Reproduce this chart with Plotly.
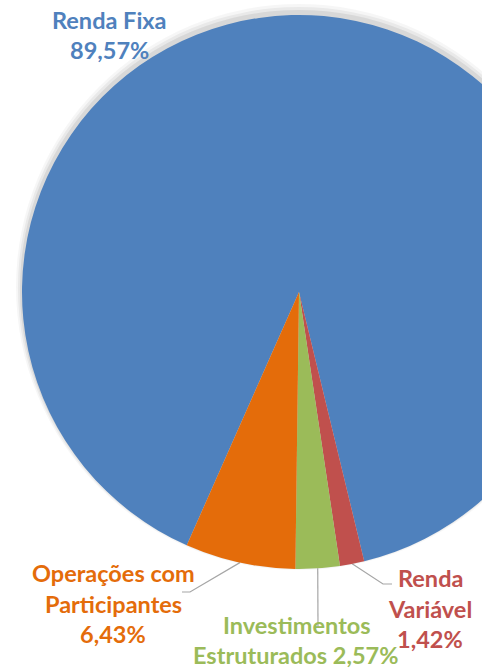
import numpy as np
import plotly.graph_objects as go

# dados da carteira (%)
categorias = ["Renda Fixa", "Renda Variável", "Investimentos Estruturados", "Operações com Participantes"]
valores = [89.57, 1.42, 2.57, 6.43]
cores = ["#4F81BD", "#C0504D", "#9BBB59", "#E46C0A"]
cores_texto = ["#4F81BD", "#C0504D", "#9BBB59", "#E46C0A"]
rotulos = [
    ["Renda Fixa", "89,57%"],
    ["Renda", "Variável", "1,42%"],
    ["Investimentos", "Estruturados 2,57%"],
    ["Operações com", "Participantes", "6,43%"],
]

W, H = 600, 672
cx, cy, r = 299, 292, 277
rotacao = 203.9

fig = go.Figure()

# sombra suave por tras da pizza (deslocada para cima)
for dr, dy, op in [(6, 5, 0.035), (4, 4, 0.05), (2, 3, 0.07)]:
    rr = r + dr
    fig.add_trace(go.Pie(
        values=[1], marker=dict(colors=["rgba(0,0,0,%s)" % op], line=dict(width=0)),
        textinfo="none", hoverinfo="skip", sort=False,
        domain=dict(x=[(cx - rr) / W, (cx + rr) / W],
                    y=[(H - (cy - dy) - rr) / H, (H - (cy - dy) + rr) / H]),
    ))

fig.add_trace(go.Pie(
    labels=categorias,
    values=valores,
    sort=False,
    direction="clockwise",
    rotation=rotacao,
    marker=dict(colors=cores, line=dict(width=0)),
    textinfo="none",
    hoverinfo="label+percent",
    domain=dict(x=[(cx - r) / W, (cx + r) / W], y=[(H - cy - r) / H, (H - cy + r) / H]),
))

# angulo medio de cada fatia (graus, horario a partir do topo)
fracs = np.array(valores) / np.sum(valores) * 360
inicio = rotacao + np.concatenate([[0], np.cumsum(fracs)[:-1]])
meio = np.radians(inicio + fracs / 2)
bx = cx + r * np.sin(meio)
by = cy - r * np.cos(meio)

# pontos de cotovelo / fim das linhas de chamada
cotovelos = {
    1: [(383, 584), (392, 584)],
    2: [(318, 628)],
    3: [(190, 592), (182, 592)],
}
for i, pts in cotovelos.items():
    xs = [bx[i]] + [p[0] for p in pts]
    ys = [by[i]] + [p[1] for p in pts]
    fig.add_trace(go.Scatter(x=xs, y=ys, mode="lines", line=dict(color="#A6A6A6", width=1.2),
                             hoverinfo="skip", showlegend=False))

# posicoes dos rotulos (centro de cada linha)
pos_rotulos = [
    [(109, 20), (109, 50)],
    [(430, 578), (430, 609), (430, 639)],
    [(297, 625), (296, 655)],
    [(113, 573), (113, 604), (113, 634)],
]
for i in range(len(categorias)):
    for txt, (x, y) in zip(rotulos[i], pos_rotulos[i]):
        fig.add_annotation(x=x, y=y, text="<b>%s</b>" % txt, showarrow=False,
                           font=dict(family="Lato", size=23.5, color=cores_texto[i]),
                           xanchor="center", yanchor="middle")

fig.update_layout(
    width=W, height=H,
    margin=dict(l=0, r=0, t=0, b=0),
    paper_bgcolor="white", plot_bgcolor="rgba(0,0,0,0)",
    showlegend=False,
    xaxis=dict(range=[0, W], visible=False, fixedrange=True),
    yaxis=dict(range=[H, 0], visible=False, fixedrange=True),
)

fig.write_html("out.html", config={"displayModeBar": False},
               post_script="document.body.style.margin='0';document.body.style.overflow='hidden';")
